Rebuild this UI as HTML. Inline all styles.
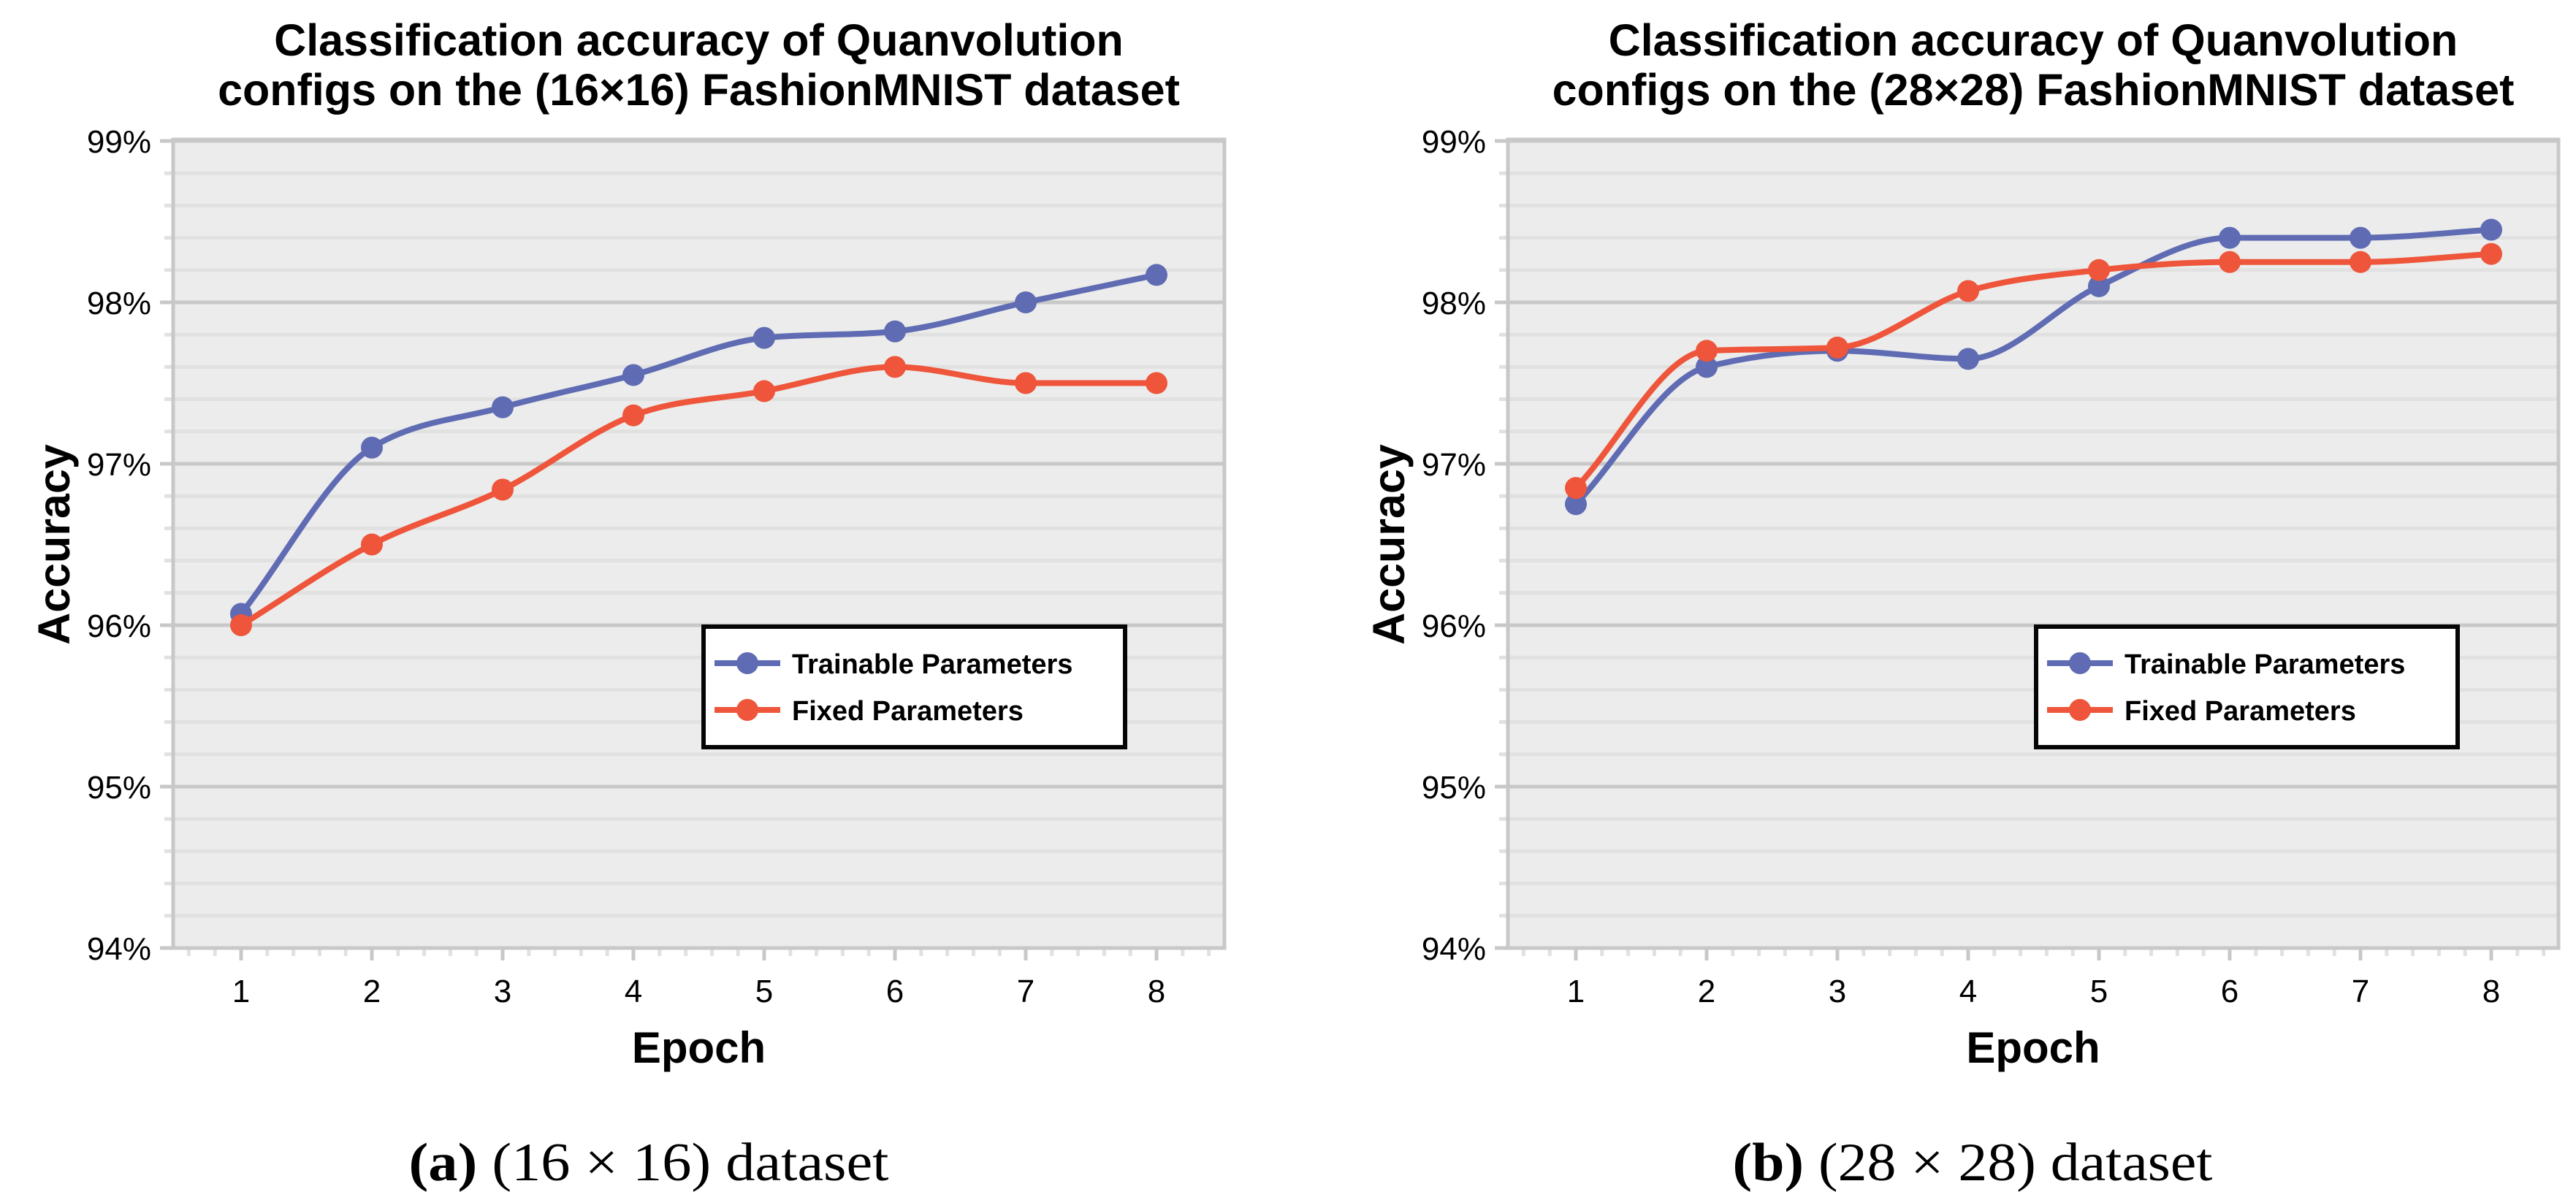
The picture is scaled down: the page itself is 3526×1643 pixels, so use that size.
<!DOCTYPE html>
<html><head><meta charset="utf-8"><style>
html,body{margin:0;padding:0;background:#fff;}
svg{display:block;font-family:"Liberation Sans",Arial,sans-serif;}
</style></head><body>
<svg id="fig" width="3526" height="1643" viewBox="0 0 3526 1643" xmlns="http://www.w3.org/2000/svg">
<rect width="3526" height="1643" fill="#fff"/>
<g id="panelA"></g>
<g id="panelB"></g>
<text x="888" y="1616" text-anchor="middle" font-family="Liberation Serif, serif" font-size="74" textLength="657" lengthAdjust="spacingAndGlyphs"><tspan font-weight="bold">(a)</tspan> (16 × 16) dataset</text>
<text x="2700" y="1616" text-anchor="middle" font-family="Liberation Serif, serif" font-size="74" textLength="657" lengthAdjust="spacingAndGlyphs"><tspan font-weight="bold">(b)</tspan> (28 × 28) dataset</text>
</svg>
<script>
const epochs = [1,2,3,4,5,6,7,8];
const yTicks = [94,95,96,97,98,99];
const yTickLabels = ["94%","95%","96%","97%","98%","99%"];
const trainA = [96.07,97.10,97.35,97.55,97.78,97.82,98.00,98.17];
const fixedA = [96.00,96.50,96.84,97.30,97.45,97.60,97.50,97.50];
const trainB = [96.75,97.60,97.70,97.65,98.10,98.40,98.40,98.45];
const fixedB = [96.85,97.70,97.72,98.07,98.20,98.25,98.25,98.30];
const titleA = ["Classification accuracy of Quanvolution","configs on the (16×16) FashionMNIST dataset"];
const titleB = ["Classification accuracy of Quanvolution","configs on the (28×28) FashionMNIST dataset"];
const seriesNames = ["Trainable Parameters","Fixed Parameters"];

const NS="http://www.w3.org/2000/svg";
const BLUE="#5F6BB3", RED="#EE553A";
function mk(parent,tag,attrs){const e=document.createElementNS(NS,tag);for(const k in attrs)e.setAttribute(k,attrs[k]);parent.appendChild(e);return e;}

function monotonePath(pts){
  const n=pts.length; if(n<2)return "";
  const dx=[],m=[],t=[];
  for(let i=0;i<n-1;i++){dx.push(pts[i+1][0]-pts[i][0]);m.push((pts[i+1][1]-pts[i][1])/dx[i]);}
  t[0]=m[0]; t[n-1]=m[n-2];
  for(let i=1;i<n-1;i++){
    if(m[i-1]*m[i]<=0)t[i]=0;
    else{const h0=dx[i-1],h1=dx[i];const p=(m[i-1]*h1+m[i]*h0)/(h0+h1);
      t[i]=(Math.sign(m[i-1])+Math.sign(m[i]))*Math.min(Math.abs(m[i-1]),Math.abs(m[i]),0.5*Math.abs(p))||0;}
  }
  let d="M"+pts[0][0]+","+pts[0][1];
  for(let i=0;i<n-1;i++){const h=dx[i]/3;
    d+=" C"+(pts[i][0]+h)+","+(pts[i][1]+h*t[i])+" "+(pts[i+1][0]-h)+","+(pts[i+1][1]-h*t[i+1])+" "+pts[i+1][0]+","+pts[i+1][1];}
  return d;
}

function drawPanel(g,left,right,title,train,fixed,legX){
  const top=193,bottom=1298;
  const x1=left+93, step=179;
  const xs=v=>x1+(v-1)*step;
  const ys=v=>top+(99-v)*(bottom-top)/5;
  const cx=(left+right)/2;
  title.forEach((line,i)=>{
    const t=mk(g,"text",{x:cx,y:76+i*68,"text-anchor":"middle","font-size":"61","font-weight":"bold"});
    
    
    t.textContent=line;
  });
  const bg=mk(g,"rect",{x:left,y:top-2,width:right-left,height:bottom-top+2,fill:"#EBECEB"});
  
  
  for(let v=94.2;v<99;v+=0.2){
    if(Math.abs(v-Math.round(v))<0.01)continue;
    const y=ys(v);
    const l=mk(g,"line",{x1:left-12,x2:right,y1:y,y2:y,stroke:"#E0E1E0","stroke-width":5});
    
    
  }
  yTicks.forEach((v,i)=>{
    const y=ys(v);
    const l=mk(g,"line",{x1:left-18,x2:right,y1:y,y2:y,stroke:"#C8C8C8","stroke-width":5});
    
    
    const t=mk(g,"text",{x:left-30,y:y+16,"text-anchor":"end","font-size":"44"});
    
    
    t.textContent=yTickLabels[i];
  });
  for(let k=0;k<=39;k++){
    const v=0.6+k*0.2; const major=Math.abs(v-Math.round(v))<0.01;
    const x=xs(v);
    const l=mk(g,"line",{x1:x,x2:x,y1:bottom,y2:bottom+(major?17:11),stroke:major?"#C8C8C8":"#E0E1E0","stroke-width":5});
    
    
  }
  epochs.forEach(e=>{
    const t=mk(g,"text",{x:xs(e),y:1372,"text-anchor":"middle","font-size":"44"});
    
    
    t.textContent=e;
  });
  const fr=mk(g,"rect",{x:left,y:top-2,width:right-left,height:bottom-top+2,fill:"none",stroke:"#C8C8C8","stroke-width":5});
  
  
  const xt=mk(g,"text",{x:cx,y:1455,"text-anchor":"middle","font-size":"60","font-weight":"bold"});
  
  
  xt.textContent="Epoch";
  const yt=mk(g,"text",{x:0,y:0,"text-anchor":"middle","font-size":"61","font-weight":"bold",transform:`translate(${left-142},${(top+bottom)/2}) rotate(-90)`});
  
  
  yt.textContent="Accuracy";
  [[train,BLUE,'trainable'],[fixed,RED,'fixed']].forEach(([arr,col,nm])=>{
    const pts=arr.map((v,i)=>[xs(epochs[i]),ys(v)]);
    const p=mk(g,"path",{d:monotonePath(pts),fill:"none",stroke:col,"stroke-width":8});
    
    
    pts.forEach(pt=>{
      const c=mk(g,"circle",{cx:pt[0],cy:pt[1],r:15,fill:col});
      
      
    });
  });
  const lg=mk(g,"g",{});
  
  
  mk(lg,"rect",{x:legX+3,y:858,width:577,height:165,fill:"#fff",stroke:"#050505","stroke-width":6});
  [[BLUE,908],[RED,972]].forEach(([col,y],i)=>{
    const e=mk(lg,"g",{});
    
    
    mk(e,"line",{x1:legX+18,x2:legX+108,y1:y,y2:y,stroke:col,"stroke-width":8});
    mk(e,"circle",{cx:legX+63,cy:y,r:15,fill:col});
    const t=mk(e,"text",{x:legX+124,y:y+14,"font-size":"38","font-weight":"bold"});
    t.textContent=seriesNames[i];
  });
}
drawPanel(document.getElementById('panelA'),237,1676,titleA,trainA,fixedA,960);
drawPanel(document.getElementById('panelB'),2064,3502,titleB,trainB,fixedB,2784);
</script>
</body></html>
